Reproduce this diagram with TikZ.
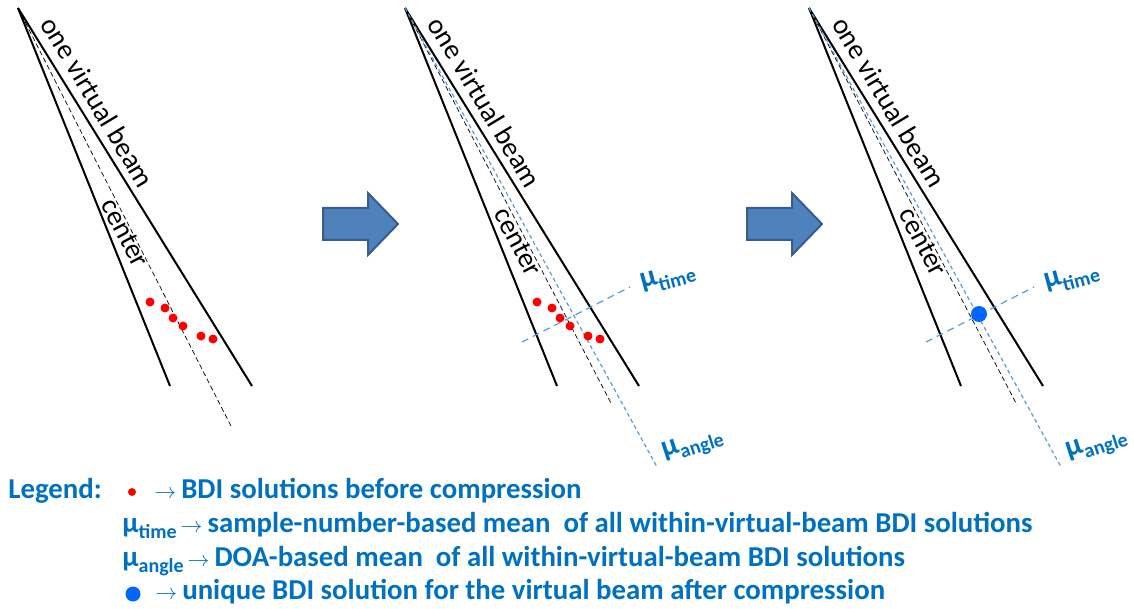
\documentclass[tikz,border=0pt]{standalone}
\usepackage{fontspec}
\setmainfont{Carlito}
\usepackage{xcolor}
\usetikzlibrary{arrows.meta, positioning, calc}
\definecolor{legBlue} {RGB}{0,112,192}
\definecolor{muLine}  {RGB}{91,155,213}
\definecolor{arrFill} {RGB}{79,129,189}
\definecolor{arrEdge} {RGB}{56,93,138}
\definecolor{dotRed}  {RGB}{255,0,0}
\definecolor{dotBlue} {RGB}{0,102,255}
\newcommand{\mulab}[1]{{\fontsize{15}{17}\selectfont\bfseries μ}\raisebox{-3.5pt}{\fontsize{10}{12}\selectfont\bfseries #1}}
\newcommand{\mulegend}[1]{{\bfseries μ}\raisebox{-3pt}{\fontsize{10}{12}\selectfont\bfseries #1}\hspace{2pt}}
\newcommand{\legarrow}{{\fontsize{11}{13}\selectfont$\rightarrow$}\hspace{2.5pt}}

\begin{document}
\begin{tikzpicture}[x=0.5pt, y=-0.5pt,
    beam/.style={line width=1pt, black},
    centerline/.style={black, line width=0.35pt, dash pattern=on 2.5pt off 1.5pt},
    mutime/.style={muLine, line width=0.6pt, dash pattern=on 3.5pt off 2.5pt},
    muangle/.style={muLine, line width=0.6pt, dash pattern=on 2pt off 1.5pt},
    beamtext/.style={font=\fontsize{14}{17}\selectfont, inner sep=0pt},
    mulabel/.style={text=legBlue, inner sep=0pt},
    legend/.style={text=legBlue, font=\fontsize{14.4}{17}\selectfont\bfseries, inner sep=0pt},
    bigarrow/.style={fill=arrFill, draw=arrEdge, line width=1pt, line join=miter}]
    \useasboundingbox (0,0) rectangle (1134,609);

    % beams, center lines and their labels
    \foreach \p/\ox/\dx/\dy/\cx/\cy in {A/18/232/428/125/233, B/405/612/405/518/242, C/809/1017/405/923/242}{
        \coordinate (apex\p) at (\ox,8);
        \coordinate (left\p) at (\ox+152,386);
        \coordinate (right\p) at (\ox+234,386);
        \coordinate (mid\p) at (\dx,\dy);
        \draw[beam] (apex\p) -- (left\p);
        \draw[beam] (apex\p) -- (right\p);
        \draw[centerline] (apex\p) -- (mid\p);
        \node[beamtext, rotate=-59] (vb\p) at (\ox+80,102) {one virtual beam};
        \node[beamtext, rotate=-62] (ctr\p) at (\cx,\cy) {center};
    }

    % mean lines
    \foreach \p/\ox in {B/405, C/809}{
        \coordinate (angEnd\p) at (\ox+252,467);
        \coordinate (timeA\p) at (\ox+117,342);
        \coordinate (timeB\p) at (\ox+225,287);
        \draw[muangle] (apex\p) -- (angEnd\p);
        \draw[mutime] (timeA\p) -- (timeB\p);
        \node[mulabel, rotate=15] (labTime\p) at (\ox+263,278) {\mulab{time}};
        \node[mulabel, rotate=18] (labAngle\p) at (\ox+288,446) {\mulab{angle}};
    }

    % BDI solutions
    \foreach \ox in {18, 405}
        \foreach \rx/\ry in {132/294, 147/300, 155/310, 165/318, 183/328, 195/331}
            \fill[dotRed] (\ox+\rx,8+\ry) circle (2.25pt);
    \fill[dotBlue] (979,314) circle (4pt);

    % block arrows
    \foreach \sx in {323, 747}
        \draw[bigarrow] (\sx,208) -- (\sx+45,208) -- (\sx+45,193) -- (\sx+75,224)
            -- (\sx+45,255) -- (\sx+45,240) -- (\sx,240) -- cycle;

    % legend
    \node[legend, anchor=base west] (legTitle) at (8,498) {Legend:};
    \fill[dotRed] (132,492) circle (2pt);
    \node[legend, anchor=base west] (legRed) at (154,498) {\legarrow BDI solutions before compression};
    \node[legend, anchor=base west] (legTime) at (122,532) {\mulegend{time}\legarrow sample-number-based mean\ \ of all within-virtual-beam BDI solutions};
    \node[legend, anchor=base west] (legAngle) at (122,566) {\mulegend{angle}\legarrow DOA-based mean\ \ of all within-virtual-beam BDI solutions};
    \fill[dotBlue] (133,594) circle (3.75pt);
    \node[legend, anchor=base west] (legBlue) at (155,599) {\legarrow unique BDI solution for the virtual beam after compression};
\end{tikzpicture}
\end{document}
